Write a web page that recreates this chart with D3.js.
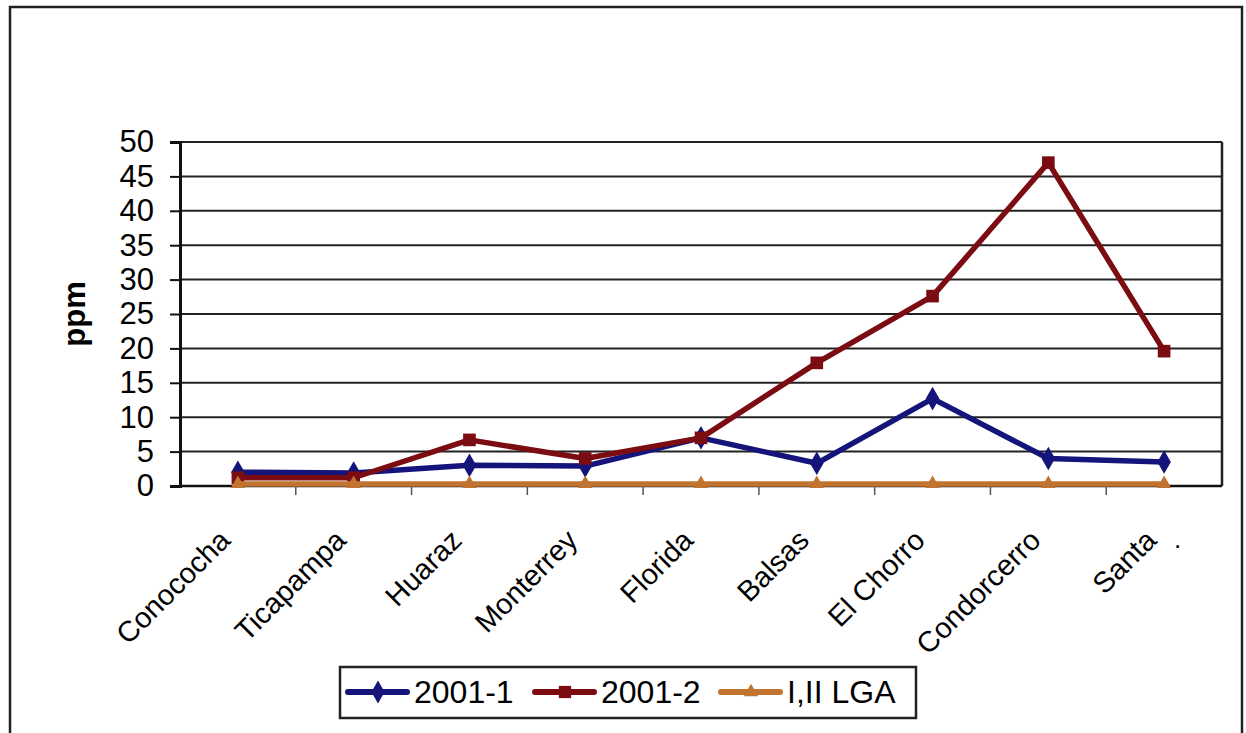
<!DOCTYPE html>
<html>
<head>
<meta charset="utf-8">
<script src="https://cdn.jsdelivr.net/npm/d3@7"></script>
<style>
  body { margin: 0; background: #fff; }
  text { font-family: Arial, "Liberation Sans", sans-serif; fill: #000; }
</style>
</head>
<body>
<svg id="chart" width="1246" height="733"></svg>
<script>
// data
var sites = ["Conococha", "Ticapampa", "Huaraz", "Monterrey", "Florida", "Balsas", "El Chorro", "Condorcerro", "Santa"];
var serie1 = [2.0, 1.9, 3.0, 2.9, 7.0, 3.3, 12.7, 4.0, 3.5];
var serie2 = [1.2, 1.2, 6.7, 4.0, 7.0, 17.9, 27.6, 47.0, 19.6];
var serieLGA = [0.3, 0.3, 0.3, 0.3, 0.3, 0.3, 0.3, 0.3, 0.3];
var seriesNames = ["2001-1", "2001-2", "I,II LGA"];
var yTicks = [0, 5, 10, 15, 20, 25, 30, 35, 40, 45, 50];

var colors = ["#14147a", "#7a0c12", "#c07430"];
var shapes = [d3.symbolDiamond, d3.symbolSquare, d3.symbolTriangle];
var allSeries = [serie1, serie2, serieLGA];

var svg = d3.select("#chart");

// outer frame
svg.append("rect")
   .attr("x", 10).attr("y", 7)
   .attr("width", 1232).attr("height", 760)
   .attr("fill", "none").attr("stroke", "#222").attr("stroke-width", 2.5);

var pLeft = 180, pRight = 1222, pTop = 142, pBottom = 486;

var x = d3.scaleBand().domain(sites).range([pLeft, pRight]);
var y = d3.scaleLinear().domain([0, 50]).range([pBottom, pTop]);

// gridlines
svg.append("g").selectAll("line")
   .data(yTicks.filter(function(d){ return d > 0; }))
   .enter().append("line")
   .attr("x1", pLeft).attr("x2", pRight)
   .attr("y1", function(d){ return y(d); })
   .attr("y2", function(d){ return y(d); })
   .attr("stroke", "#222").attr("stroke-width", 2);

// right border of plot
svg.append("line")
   .attr("x1", pRight).attr("x2", pRight)
   .attr("y1", pTop).attr("y2", pBottom)
   .attr("stroke", "#222").attr("stroke-width", 2.5);

// y axis
var yAxis = svg.append("g")
   .attr("transform", "translate(" + pLeft + ",0)")
   .call(d3.axisLeft(y).tickValues(yTicks).tickSize(10).tickPadding(16));
yAxis.select(".domain").attr("stroke", "#111").attr("stroke-width", 3);
yAxis.selectAll(".tick line").attr("stroke", "#111").attr("stroke-width", 2);
yAxis.selectAll("text")
   .style("font-size", "31px")
   .style("font-family", "Arial, 'Liberation Sans', sans-serif")
   .attr("fill", "#000");

// x axis: ticks sit between categories
var xAxis = svg.append("g")
   .attr("transform", "translate(0," + pBottom + ")");
xAxis.append("line")
   .attr("x1", pLeft).attr("x2", pRight)
   .attr("stroke", "#111").attr("stroke-width", 2.5);
xAxis.selectAll(".sep")
   .data(sites.slice(1))
   .enter().append("line")
   .attr("class", "sep")
   .attr("x1", function(d){ return x(d); })
   .attr("x2", function(d){ return x(d); })
   .attr("y1", 0).attr("y2", 9)
   .attr("stroke", "#555").attr("stroke-width", 1.5);

xAxis.selectAll(".lab")
   .data(sites)
   .enter().append("text")
   .attr("class", "lab")
   .attr("text-anchor", "end")
   .style("font-size", "29px")
   .attr("transform", function(d){
      var cx = x(d) + x.bandwidth() / 2;
      return "translate(" + (cx - 6) + ",56) rotate(-45)";
   })
   .text(function(d){ return d; });

// stray dot after Santa
svg.append("text")
   .attr("x", x("Santa") + x.bandwidth() / 2 + 10)
   .attr("y", 548)
   .style("font-size", "26px")
   .text(".");

// y title
svg.append("text")
   .attr("transform", "translate(85,314) rotate(-90)")
   .attr("text-anchor", "middle")
   .style("font-size", "31px")
   .style("font-weight", "bold")
   .text("ppm");

// lines and markers
var line = d3.line()
   .x(function(d, i){ return x(sites[i]) + x.bandwidth() / 2; })
   .y(function(d){ return y(d); });

allSeries.forEach(function(s, k){
  var g = svg.append("g");
  g.append("path")
   .datum(s)
   .attr("d", line)
   .attr("fill", "none")
   .attr("stroke", colors[k])
   .attr("stroke-width", 5.5)
   .attr("stroke-linejoin", "round");
  g.selectAll("path.m")
   .data(s)
   .enter().append("path")
   .attr("class", "m")
   .attr("d", d3.symbol().type(shapes[k]).size(k == 2 ? 90 : 160))
   .attr("transform", function(d, i){
      return "translate(" + (x(sites[i]) + x.bandwidth() / 2) + "," + y(d) + ")";
   })
   .attr("fill", colors[k]);
});

// legend
var legend = svg.append("g");
legend.append("rect")
   .attr("x", 340).attr("y", 667)
   .attr("width", 576).attr("height", 51)
   .attr("fill", "#fff").attr("stroke", "#222").attr("stroke-width", 2.5);

var legX = [348, 535, 721];
seriesNames.forEach(function(name, k){
  var lx = legX[k];
  legend.append("line")
     .attr("x1", lx).attr("x2", lx + 59)
     .attr("y1", 692).attr("y2", 692)
     .attr("stroke", colors[k]).attr("stroke-width", 6)
     .attr("stroke-linecap", "round");
  legend.append("path")
     .attr("d", d3.symbol().type(shapes[k]).size(k == 2 ? 90 : 150))
     .attr("transform", "translate(" + (lx + 30) + ",692)")
     .attr("fill", colors[k]);
  legend.append("text")
     .attr("x", lx + 66).attr("y", 703)
     .style("font-size", "32px")
     .text(name);
});
</script>
</body>
</html>
